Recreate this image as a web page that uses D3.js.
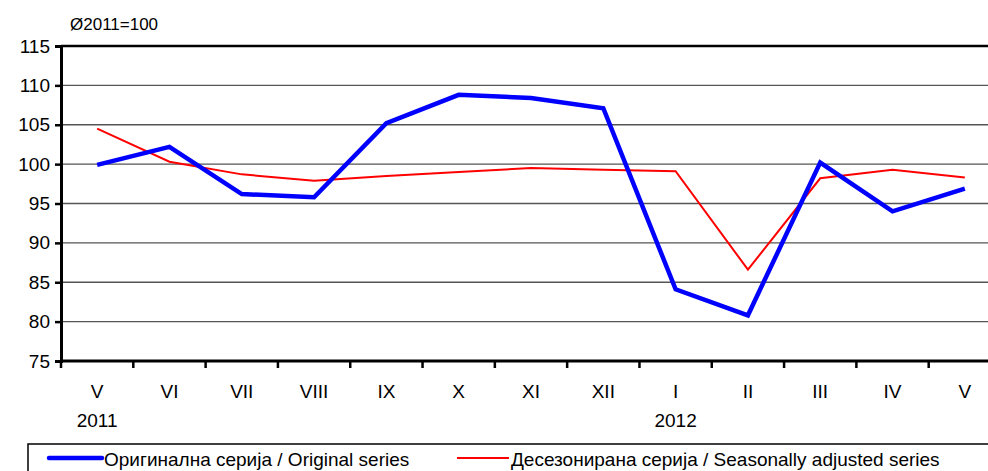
<!DOCTYPE html>
<html>
<head>
<meta charset="utf-8">
<script src="https://cdn.jsdelivr.net/npm/d3@7"></script>
<style>
  body { margin: 0; background: #fff; }
  svg { display: block; font-family: "Liberation Sans", Arial, sans-serif; }
</style>
</head>
<body>
<svg id="chart" width="988" height="471"></svg>
<script>
// months on the x axis, with year labels under first V and under I
var months = ["V", "VI", "VII", "VIII", "IX", "X", "XI", "XII", "I", "II", "III", "IV", "V"];
var years = [{ idx: 0, label: "2011" }, { idx: 8, label: "2012" }];
var original = [99.9, 102.2, 96.2, 95.8, 105.2, 108.8, 108.4, 107.1, 84.1, 80.8, 100.2, 94.0, 96.9];
var adjusted = [104.5, 100.3, 98.7, 97.9, 98.5, 99.0, 99.5, 99.3, 99.1, 86.6, 98.2, 99.3, 98.3];
var yTicks = [75, 80, 85, 90, 95, 100, 105, 110, 115];

var svg = d3.select("#chart");
var pLeft = 61, pRight = 1001, pTop = 46, pBottom = 361;

var x = d3.scaleBand()
  .domain(d3.range(months.length))
  .range([pLeft, pRight]);
var y = d3.scaleLinear()
  .domain([75, 115])
  .range([pBottom, pTop]);

// gridlines
svg.append("g")
  .selectAll("line")
  .data(yTicks.filter(function (d) { return d > 75 && d < 115; }))
  .join("line")
  .attr("x1", pLeft).attr("x2", pRight)
  .attr("y1", function (d) { return y(d); })
  .attr("y2", function (d) { return y(d); })
  .attr("stroke", "#555")
  .attr("stroke-width", 1.3);

// top border line
svg.append("line")
  .attr("x1", pLeft).attr("x2", pRight)
  .attr("y1", y(115)).attr("y2", y(115))
  .attr("stroke", "#000").attr("stroke-width", 2.5);

// y axis
var yAxis = svg.append("g")
  .attr("transform", "translate(" + pLeft + ",0)")
  .call(d3.axisLeft(y).tickValues(yTicks).tickSize(6).tickPadding(5));
yAxis.select(".domain").attr("stroke-width", 3);
yAxis.selectAll(".tick line").attr("stroke-width", 2.5);
yAxis.selectAll("text").attr("font-size", 19).attr("fill", "#000")
  .attr("font-family", "Liberation Sans, Arial, sans-serif");

// x axis: ticks at band boundaries
var xAxis = svg.append("g")
  .attr("transform", "translate(0," + pBottom + ")");
xAxis.append("line")
  .attr("x1", pLeft).attr("x2", pRight)
  .attr("y1", 0).attr("y2", 0)
  .attr("stroke", "#000").attr("stroke-width", 3);
xAxis.selectAll(".tk")
  .data(d3.range(months.length + 1))
  .join("line")
  .attr("class", "tk")
  .attr("x1", function (i) { return pLeft + i * x.step(); })
  .attr("x2", function (i) { return pLeft + i * x.step(); })
  .attr("y1", 0).attr("y2", 7)
  .attr("stroke", "#000").attr("stroke-width", 2.5);
xAxis.selectAll(".lbl")
  .data(months)
  .join("text")
  .attr("class", "lbl")
  .attr("x", function (d, i) { return x(i) + x.bandwidth() / 2; })
  .attr("y", 37)
  .attr("text-anchor", "middle")
  .attr("font-size", 19)
  .text(function (d) { return d; });
xAxis.selectAll(".yr")
  .data(years)
  .join("text")
  .attr("class", "yr")
  .attr("x", function (d) { return x(d.idx) + x.bandwidth() / 2; })
  .attr("y", 66)
  .attr("text-anchor", "middle")
  .attr("font-size", 19)
  .text(function (d) { return d.label; });

// unit note
svg.append("text")
  .attr("x", 70).attr("y", 30)
  .attr("font-size", 17)
  .text("Ø2011=100");

var line = d3.line()
  .x(function (d, i) { return x(i) + x.bandwidth() / 2; })
  .y(function (d) { return y(d); });

svg.append("path")
  .datum(adjusted)
  .attr("d", line)
  .attr("fill", "none")
  .attr("stroke", "#ff0000")
  .attr("stroke-width", 2);

svg.append("path")
  .datum(original)
  .attr("d", line)
  .attr("fill", "none")
  .attr("stroke", "#0000ff")
  .attr("stroke-width", 4.5)
  .attr("stroke-linejoin", "miter");

// legend
var lg = svg.append("g");
lg.append("rect")
  .attr("x", 28).attr("y", 444)
  .attr("width", 990).attr("height", 40)
  .attr("fill", "#fff").attr("stroke", "#000").attr("stroke-width", 1.5);
lg.append("line")
  .attr("x1", 49).attr("x2", 102).attr("y1", 458).attr("y2", 458)
  .attr("stroke", "#0000ff").attr("stroke-width", 4.5).attr("stroke-linecap", "round");
lg.append("text")
  .attr("x", 104).attr("y", 466)
  .attr("font-size", 19)
  .text("Оригинална серија / Original series");
lg.append("line")
  .attr("x1", 457).attr("x2", 509).attr("y1", 458).attr("y2", 458)
  .attr("stroke", "#ff0000").attr("stroke-width", 2);
lg.append("text")
  .attr("x", 511).attr("y", 466)
  .attr("font-size", 19)
  .text("Десезонирана серија / Seasonally adjusted series");
</script>
</body>
</html>
